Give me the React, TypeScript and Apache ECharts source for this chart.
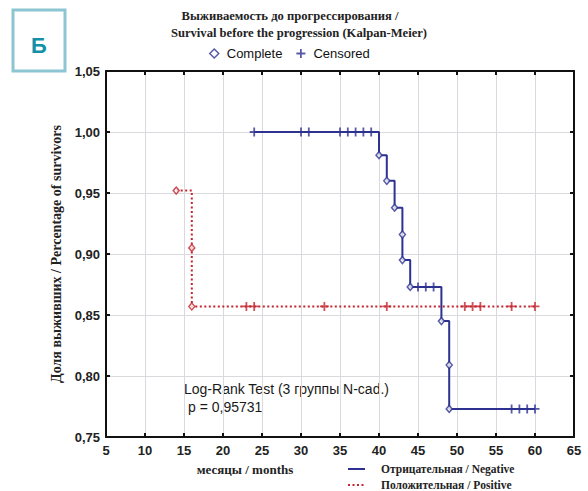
import React, { useEffect, useRef } from "react";
import * as echarts from "echarts";

// ---- data ----
const xTicks = [5, 10, 15, 20, 25, 30, 35, 40, 45, 50, 55, 60, 65];
const yTicks = [0.75, 0.8, 0.85, 0.9, 0.95, 1.0, 1.05];

// Negative group (solid blue) – step curve
const negCurveT = [24, 40, 41, 42, 43, 43, 44, 48, 49, 49, 60];
const negCurveS = [1.0, 0.981, 0.96, 0.938, 0.916, 0.895, 0.873, 0.845, 0.809, 0.773, 0.773];
// complete (event) markers
const negEventT = [40, 41, 42, 43, 43, 44, 48, 49, 49];
const negEventS = [0.981, 0.96, 0.938, 0.916, 0.895, 0.873, 0.845, 0.809, 0.773];
// censored markers
const negCensT = [24, 30, 31, 35, 36, 37, 38, 39, 45, 46, 47, 57, 58, 59, 60];
const negCensS = [1.0, 1.0, 1.0, 1.0, 1.0, 1.0, 1.0, 1.0, 0.873, 0.873, 0.873, 0.773, 0.773, 0.773, 0.773];

// Positive group (dotted red)
const posCurveT = [14, 16, 16, 60];
const posCurveS = [0.952, 0.905, 0.857, 0.857];
const posEventT = [14, 16, 16];
const posEventS = [0.952, 0.905, 0.857];
const posCensT = [23, 24, 33, 41, 51, 52, 53, 57, 60];
const posCensS = [0.857, 0.857, 0.857, 0.857, 0.857, 0.857, 0.857, 0.857, 0.857];

const titleLine1 = "Выживаемость до прогрессирования /";
const titleLine2 = "Survival before the progression (Kalpan-Meier)";
const yName = "Доля выживших / Percentage of survivors";
const xName = "месяцы / months";
const negName = "Отрицательная / Negative";
const posName = "Положительная / Positive";
const testLine1 = "Log-Rank Test (3 группы N-cad.)";
const testLine2 = "p = 0,95731";
const panelLetter = "Б";

const BLUE = "#2d3290";
const RED = "#c3262e";
const PLUS = "path://M3.2,0H4.8V3.2H8V4.8H4.8V8H3.2V4.8H0V3.2H3.2Z";

const zip = (a: number[], b: number[]) => a.map((v, i) => [v, b[i]]);

export default function App() {
  const ref = useRef<HTMLDivElement>(null);
  useEffect(() => {
    if (!ref.current) return;
    const chart = echarts.init(ref.current, null, { renderer: "svg" });
    const serif = "Liberation Serif";
    const sans = "Liberation Sans";
    const axisCommon = { min: 5, max: 65, interval: 5 };
    const yCommon = { min: 0.75, max: 1.05, interval: 0.05 };
    const bottomLegend = (name: string, top: number) => ({
      left: 342,
      top,
      orient: "horizontal",
      itemWidth: 17,
      itemHeight: 10,
      itemStyle: { color: "transparent", borderWidth: 0, opacity: 0 },
      textStyle: { fontFamily: serif, fontWeight: "bold", fontSize: 11.5, color: "#222", padding: [0, 0, 0, 11] },
      data: [name],
    });
    chart.setOption({
      animation: false,
      backgroundColor: "#ffffff",
      textStyle: { fontFamily: sans },
      grid: { left: 106, top: 71, right: 14, bottom: 54, containLabel: false },
      legend: [
        {
          left: 204,
          top: 42,
          itemWidth: 9,
          itemHeight: 9,
          itemGap: 14,
          textStyle: { fontFamily: sans, fontSize: 13, color: "#111", padding: [0, 0, 0, 3] },
          data: [
            { name: "Complete", icon: "diamond", itemStyle: { color: "#fff", borderColor: BLUE, borderWidth: 1.5 } },
            { name: "Censored", icon: PLUS, itemStyle: { color: BLUE } },
          ],
        },
        bottomLegend(negName, 458),
        bottomLegend(posName, 474),
      ],
      xAxis: [
        {
          type: "value",
          ...axisCommon,
          position: "bottom",
          axisLine: { show: true, lineStyle: { color: "#111", width: 2 } },
          axisTick: { show: true, inside: true, length: 4, lineStyle: { color: "#111", width: 2 } },
          axisLabel: { show: true, fontSize: 13, fontWeight: "bold", color: "#222", margin: 7 },
          splitLine: { show: true, lineStyle: { color: "#d9d9de", width: 1 } },
        },
        {
          type: "value",
          ...axisCommon,
          position: "top",
          axisLine: { show: true, lineStyle: { color: "#111", width: 2 } },
          axisTick: { show: true, inside: true, length: 4, lineStyle: { color: "#111", width: 2 } },
          axisLabel: { show: false },
          splitLine: { show: false },
        },
      ],
      yAxis: [
        {
          type: "value",
          ...yCommon,
          position: "left",
          axisLine: { show: true, lineStyle: { color: "#111", width: 2 } },
          axisTick: { show: true, inside: true, length: 4, lineStyle: { color: "#111", width: 2 } },
          axisLabel: {
            show: true,
            fontSize: 13,
            fontWeight: "bold",
            color: "#222",
            margin: 6,
            formatter: (v: number) => v.toFixed(2).replace(".", ","),
          },
          splitLine: { show: true, lineStyle: { color: "#d9d9de", width: 1 } },
          name: yName,
          nameLocation: "middle",
          nameGap: 36,
          nameTextStyle: { fontFamily: serif, fontWeight: "bold", fontSize: 14, color: "#222" },
        },
        {
          type: "value",
          ...yCommon,
          position: "right",
          axisLine: { show: true, lineStyle: { color: "#111", width: 2 } },
          axisTick: { show: true, inside: true, length: 4, lineStyle: { color: "#111", width: 2 } },
          axisLabel: { show: false },
          splitLine: { show: false },
        },
      ],
      series: [
        {
          name: posName,
          type: "line",
          step: "end",
          data: zip(posCurveT, posCurveS),
          symbol: "none",
          lineStyle: { color: RED, width: 2, type: [2, 2.5] },
          itemStyle: { color: RED },
          z: 2,
        },
        {
          name: negName,
          type: "line",
          step: "end",
          data: zip(negCurveT, negCurveS),
          symbol: "none",
          lineStyle: { color: BLUE, width: 2, type: "solid" },
          itemStyle: { color: BLUE },
          z: 3,
        },
        {
          name: "Complete",
          type: "scatter",
          data: zip(negEventT, negEventS),
          symbol: "diamond",
          symbolSize: [6, 7],
          itemStyle: { color: "#fff", borderColor: BLUE, borderWidth: 1.5 },
          z: 5,
        },
        {
          name: "Complete",
          type: "scatter",
          data: zip(posEventT, posEventS),
          symbol: "diamond",
          symbolSize: [6, 7],
          itemStyle: { color: "#fff", borderColor: RED, borderWidth: 1.5 },
          z: 5,
        },
        {
          name: "Censored",
          type: "scatter",
          data: zip(negCensT, negCensS),
          symbol: PLUS,
          symbolSize: 9,
          itemStyle: { color: BLUE },
          z: 4,
        },
        {
          name: "Censored",
          type: "scatter",
          data: zip(posCensT, posCensS),
          symbol: PLUS,
          symbolSize: 9,
          itemStyle: { color: RED },
          z: 4,
        },
      ],
      graphic: [
        {
          type: "rect",
          shape: { x: 13, y: 10, width: 52, height: 61 },
          style: { fill: "none", stroke: "#8cc6d2", lineWidth: 3 },
        },
        {
          type: "text",
          x: 39,
          y: 45,
          style: {
            text: panelLetter,
            fontFamily: sans,
            fontWeight: "bold",
            fontSize: 22,
            fill: "#1690a9",
            textAlign: "center",
            textVerticalAlign: "middle",
          },
        },
        {
          type: "text",
          x: 290,
          y: 16,
          style: {
            text: titleLine1,
            fontFamily: serif,
            fontWeight: "bold",
            fontSize: 12.6,
            fill: "#222",
            textAlign: "center",
            textVerticalAlign: "middle",
          },
        },
        {
          type: "text",
          x: 299,
          y: 33,
          style: {
            text: titleLine2,
            fontFamily: serif,
            fontWeight: "bold",
            fontSize: 12.6,
            fill: "#222",
            textAlign: "center",
            textVerticalAlign: "middle",
          },
        },
        {
          type: "text",
          x: 245,
          y: 469,
          style: {
            text: xName,
            fontFamily: serif,
            fontWeight: "bold",
            fontSize: 13,
            fill: "#222",
            textAlign: "center",
            textVerticalAlign: "middle",
          },
        },
        {
          type: "text",
          x: 184,
          y: 389,
          style: {
            text: testLine1,
            fontFamily: sans,
            fontSize: 14,
            fill: "#1a1a1a",
            textAlign: "left",
            textVerticalAlign: "middle",
          },
        },
        {
          type: "text",
          x: 188,
          y: 407,
          style: {
            text: testLine2,
            fontFamily: sans,
            fontSize: 14,
            fill: "#1a1a1a",
            textAlign: "left",
            textVerticalAlign: "middle",
          },
        },
      ],
    });
    return () => chart.dispose();
  }, []);
  return (
    <div
      ref={ref}
      style={{ position: "fixed", left: 0, top: 0, width: 588, height: 491, background: "#fff" }}
    />
  );
}
